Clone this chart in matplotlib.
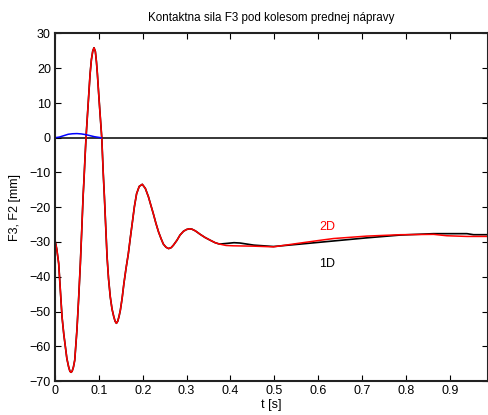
import matplotlib
matplotlib.use("Agg")
import matplotlib.pyplot as plt

plt.rcParams["font.family"] = ["Liberation Sans", "DejaVu Sans"]
plt.rcParams["font.size"] = 9

# spolocny priebeh 1D aj 2D do t = 0.375 (odcitane z grafu)
t_start = [0.0, 0.004, 0.0084, 0.012, 0.016, 0.020, 0.0236, 0.027, 0.031, 0.034,
           0.0366, 0.039, 0.042, 0.045, 0.050, 0.054, 0.0578, 0.061, 0.064, 0.066,
           0.0685, 0.0708, 0.0737, 0.077, 0.080, 0.083, 0.086, 0.0889, 0.092, 0.0945,
           0.0966, 0.0995, 0.1027, 0.1066, 0.110, 0.1126, 0.1157, 0.1187, 0.122, 0.126,
           0.130, 0.134, 0.137, 0.140, 0.143, 0.146, 0.149, 0.153, 0.157, 0.162,
           0.167, 0.172, 0.177, 0.181, 0.186, 0.192, 0.199, 0.206, 0.213, 0.218,
           0.224, 0.230, 0.236, 0.242, 0.247, 0.253, 0.259, 0.265, 0.270, 0.278,
           0.285, 0.293, 0.300, 0.306, 0.312, 0.320, 0.331, 0.342, 0.354, 0.365,
           0.375]
f_start = [-29.5, -32.0, -36.2, -43.5, -51.5, -56.5, -60.1, -63.5, -65.9, -67.2,
           -67.5, -67.2, -66.0, -64.0, -55.3, -46.0, -36.2, -26.5, -17.0, -12.2,
           -5.5, 0.2, 6.0, 12.5, 18.4, 22.5, 24.9, 25.9, 24.8, 21.8,
           18.4, 12.8, 6.9, 0.0, -10.3, -17.0, -25.8, -34.3, -40.5, -45.8,
           -49.3, -51.5, -52.8, -53.4, -52.8, -51.4, -49.6, -46.2, -42.0, -37.5,
           -33.5, -28.5, -23.7, -19.8, -16.1, -14.0, -13.4, -14.6, -17.0, -19.2,
           -21.8, -24.6, -27.1, -29.1, -30.6, -31.5, -31.9, -31.6, -30.9, -29.5,
           -28.0, -26.9, -26.4, -26.2, -26.3, -26.8, -27.8, -28.7, -29.5, -30.2,
           -30.6]

# 1D (black) dalej
t_1d_end = [0.392, 0.408, 0.422, 0.453, 0.498, 0.559, 0.635, 0.711, 0.787, 0.863,
            0.939, 0.954, 0.99]
f_1d_end = [-30.4, -30.2, -30.3, -30.9, -31.3, -30.6, -29.7, -28.8, -28.0, -27.6,
            -27.6, -27.9, -27.9]

# 2D (red) dalej
t_2d_end = [0.390, 0.407, 0.453, 0.498, 0.559, 0.605, 0.635, 0.711, 0.787, 0.863,
            0.893, 0.939, 0.99]
f_2d_end = [-31.0, -31.1, -31.2, -31.4, -30.3, -29.5, -29.0, -28.3, -27.9, -27.8,
            -28.2, -28.4, -28.4]

# F2 (blue)
t_f2 = [0.0, 0.01, 0.02, 0.03, 0.04, 0.05, 0.06, 0.07, 0.08, 0.09, 0.1, 0.105]
f_f2 = [0.0, 0.2, 0.6, 1.0, 1.15, 1.2, 1.1, 0.9, 0.6, 0.3, 0.1, 0.0]

t_1d = t_start + t_1d_end
f_1d = f_start + f_1d_end
t_2d = t_start + t_2d_end
f_2d = f_start + f_2d_end

xticks = [0, 0.1, 0.2, 0.3, 0.4, 0.5, 0.6, 0.7, 0.8, 0.9]
yticks = [-70, -60, -50, -40, -30, -20, -10, 0, 10, 20, 30]

fig = plt.figure(figsize=(4.88, 4.15), dpi=100)
ax = fig.add_axes([55 / 488, 34 / 415, 433 / 488, 347.5 / 415])

ax.axhline(0, color="black", lw=1.1)
ax.plot(t_1d, f_1d, color="black", lw=1.2)
ax.plot(t_2d, f_2d, color="red", lw=1.1)
ax.plot(t_f2, f_f2, color="blue", lw=1.1)

ax.text(0.62, -25.7, "2D", color="#ff0000", ha="center", va="center")
ax.text(0.62, -36.4, "1D", color="black", ha="center", va="center")

ax.set_xlim(0, 0.987)
ax.set_ylim(-70, 30)
ax.set_xticks(xticks)
ax.set_xticklabels(["0"] + [str(x) for x in xticks[1:]])
ax.set_yticks(yticks)
ax.tick_params(direction="in", length=4, width=0.8, top=True, right=True, pad=3)
for s in ax.spines.values():
    s.set_linewidth(1.5)
    s.set_color("#222222")

ax.set_title("Kontaktna sila F3 pod kolesom prednej nápravy", fontsize=8.4, pad=9)
ax.set_xlabel("t [s]", labelpad=1)
ax.set_ylabel("F3, F2 [mm]", labelpad=6)

fig.savefig("out.png", dpi=100)
